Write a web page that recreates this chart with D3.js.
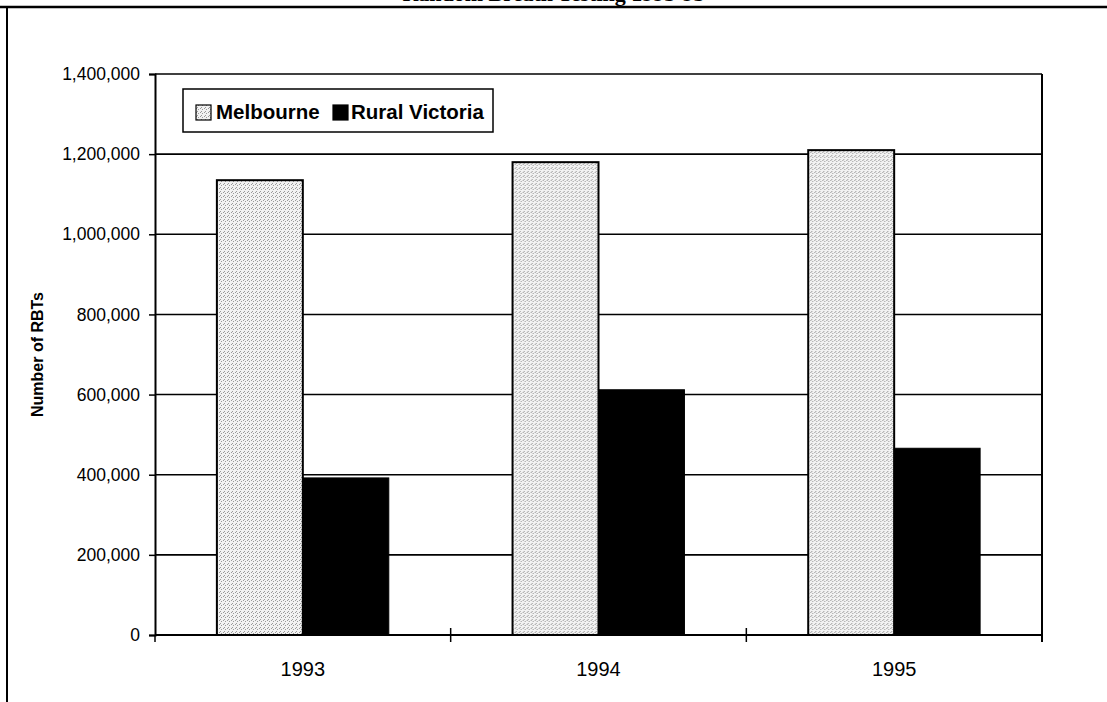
<!DOCTYPE html>
<html>
<head>
<meta charset="utf-8">
<script src="https://cdn.jsdelivr.net/npm/d3@7"></script>
<style>
  html, body { margin: 0; padding: 0; background: #fff; }
  svg { display: block; }
  text { font-family: "Liberation Sans", Arial, Helvetica, sans-serif; fill: #000; }
</style>
</head>
<body>
<script>
// ---- data ----
const categories = ["1993", "1994", "1995"];
const seriesNames = ["Melbourne", "Rural Victoria"];
const melbourne = [1135000, 1180000, 1210000];
const ruralVictoria = [392000, 612000, 466000];
const yTicks = [0, 200000, 400000, 600000, 800000, 1000000, 1200000, 1400000];
const titleText = "Random Breath Testing 1993-95";
const yAxisTitle = "Number of RBTs";

// ---- layout ----
const W = 1107, H = 702;
const m = { left: 155, right: 1042, top: 74, bottom: 635 };

const svg = d3.select("body").append("svg").attr("width", W).attr("height", H);

// stipple pattern for Melbourne bars
const defs = svg.append("defs");
const pat = defs.append("pattern").attr("id", "stip").attr("patternUnits", "userSpaceOnUse")
  .attr("width", 4).attr("height", 4);
pat.append("rect").attr("width", 4).attr("height", 4).attr("fill", "#f2f2f2");
[[0,0],[2,1],[1,3]].forEach(([x,y]) =>
  pat.append("rect").attr("x", x).attr("y", y).attr("width", 1).attr("height", 1).attr("fill", "#9a9a9a"));

// outer frame (partial, as in the scan)
svg.append("line").attr("x1", 0).attr("x2", W).attr("y1", 7).attr("y2", 7)
  .attr("stroke", "#000").attr("stroke-width", 2.5);
svg.append("line").attr("x1", 7).attr("x2", 7).attr("y1", 7).attr("y2", H)
  .attr("stroke", "#000").attr("stroke-width", 2);

// clipped title at the very top (as in the scan)
svg.append("text").attr("x", W / 2).attr("y", 1).attr("text-anchor", "middle")
  .style("font-family", "'Liberation Serif', 'Times New Roman', serif")
  .style("font-weight", "bold").style("font-size", "22px").text(titleText);

// scales
const y = d3.scaleLinear().domain([0, 1400000]).range([m.bottom, m.top]);
const x0 = d3.scaleBand().domain(categories).range([m.left, m.right]).padding(0);
const x1 = d3.scaleBand().domain(seriesNames).range([0, x0.bandwidth()])
  .paddingInner(0).paddingOuter(0.72);

// gridlines
svg.append("g").selectAll("line").data(yTicks).join("line")
  .attr("x1", m.left).attr("x2", m.right)
  .attr("y1", d => y(d)).attr("y2", d => y(d))
  .attr("stroke", "#000").attr("stroke-width", 1.6);

// y axis
const yAxis = d3.axisLeft(y).tickValues(yTicks).tickFormat(d3.format(",")).tickSize(6).tickPadding(9);
const gy = svg.append("g").attr("transform", `translate(${m.left},0)`).call(yAxis);
gy.select(".domain").attr("stroke", "#000").attr("stroke-width", 2);
gy.selectAll(".tick line").attr("stroke", "#000").attr("stroke-width", 1.5);
gy.selectAll(".tick text").style("font-size", "17.5px").style("font-family", "'Liberation Sans', Arial, sans-serif").attr("fill", "#000");

// right border
svg.append("line").attr("x1", m.right).attr("x2", m.right).attr("y1", m.top).attr("y2", m.bottom + 7)
  .attr("stroke", "#000").attr("stroke-width", 2);

// bars
const groups = svg.append("g").selectAll("g").data(categories).join("g")
  .attr("transform", d => `translate(${x0(d)},0)`);
groups.append("rect")
  .attr("x", x1("Melbourne")).attr("width", x1.bandwidth())
  .attr("y", (d, i) => y(melbourne[i])).attr("height", (d, i) => y(0) - y(melbourne[i]))
  .attr("fill", "url(#stip)").attr("stroke", "#000").attr("stroke-width", 2);
groups.append("rect")
  .attr("x", x1("Rural Victoria")).attr("width", x1.bandwidth())
  .attr("y", (d, i) => y(ruralVictoria[i])).attr("height", (d, i) => y(0) - y(ruralVictoria[i]))
  .attr("fill", "#000").attr("stroke", "#000").attr("stroke-width", 1);

// x axis
svg.append("line").attr("x1", m.left).attr("x2", m.right).attr("y1", m.bottom).attr("y2", m.bottom)
  .attr("stroke", "#000").attr("stroke-width", 2);
const boundaries = categories.map(c => x0(c)).concat([m.right]);
svg.append("g").selectAll("line").data(boundaries).join("line")
  .attr("x1", d => d).attr("x2", d => d)
  .attr("y1", (d, i) => (i === 0 || i === boundaries.length - 1) ? m.bottom : m.bottom - 7)
  .attr("y2", m.bottom + 7)
  .attr("stroke", "#000").attr("stroke-width", 1.5);
svg.append("g").selectAll("text").data(categories).join("text")
  .attr("x", d => x0(d) + x0.bandwidth() / 2).attr("y", 676)
  .attr("text-anchor", "middle").style("font-size", "20px").text(d => d);

// y axis title
svg.append("text")
  .attr("transform", `translate(43,${(m.top + m.bottom) / 2}) rotate(-90)`)
  .attr("text-anchor", "middle").style("font-weight", "bold").style("font-size", "16px")
  .text(yAxisTitle);

// legend
const lg = svg.append("g");
lg.append("rect").attr("x", 183).attr("y", 89).attr("width", 310).attr("height", 43)
  .attr("fill", "#fff").attr("stroke", "#000").attr("stroke-width", 1.5);
const legendItems = [
  { name: seriesNames[0], fill: "url(#stip)", sx: 196, tx: 216 },
  { name: seriesNames[1], fill: "#000", sx: 333, tx: 351 }
];
legendItems.forEach(it => {
  lg.append("rect").attr("x", it.sx).attr("y", 105).attr("width", 15).attr("height", 15)
    .attr("fill", it.fill).attr("stroke", "#000").attr("stroke-width", 1.2);
  lg.append("text").attr("x", it.tx).attr("y", 119).style("font-weight", "bold")
    .style("font-size", "20.5px").text(it.name);
});
</script>
</body>
</html>
